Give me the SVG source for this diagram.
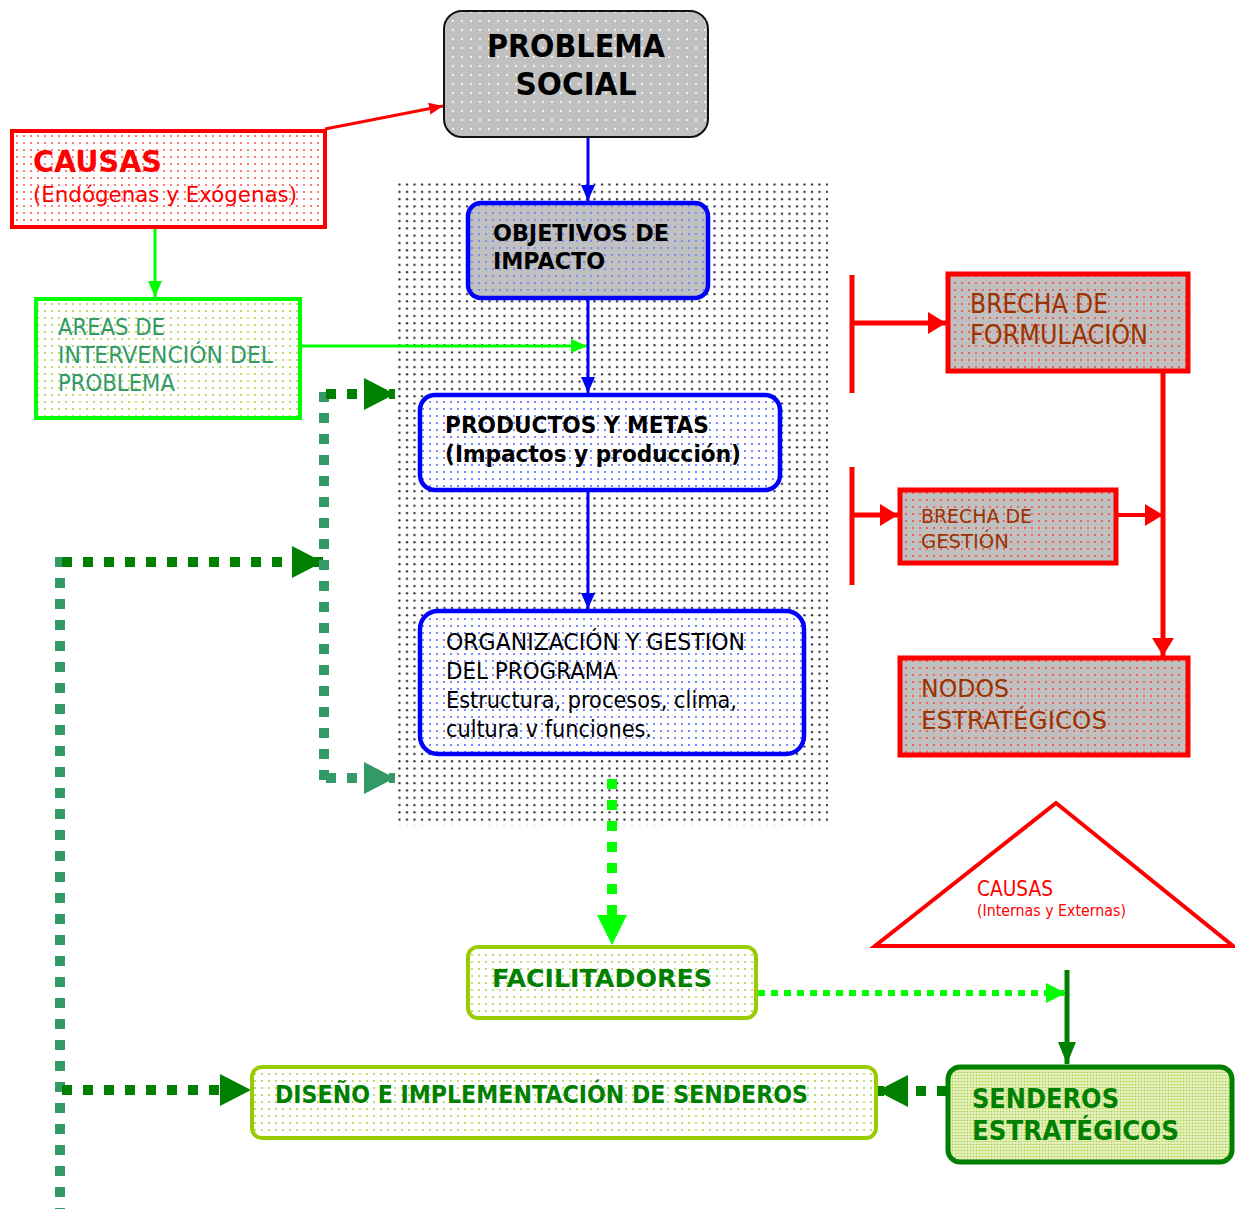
<svg xmlns="http://www.w3.org/2000/svg" width="1235" height="1209" viewBox="0 0 1235 1209">
  <style>
    text { font-family: "DejaVu Sans", "Noto Sans", sans-serif; }
    .b { font-weight: bold; }
    .blk { fill: #000000; }
    .red { fill: #ff0000; }
    .sea { fill: #339966; }
    .brown { fill: #993300; }
    .dg { fill: #008000; }
    .line { fill: none; }
  </style>
  <defs>
    <!-- dot textures -->
    <pattern id="pBg" width="7.5" height="7.3" patternUnits="userSpaceOnUse">
      <circle cx="2" cy="2" r="1.1" fill="#222"/>
    </pattern>
    <pattern id="pGrayWhite" width="9" height="9" patternUnits="userSpaceOnUse">
      <rect width="9" height="9" fill="#c0c0c0"/>
      <circle cx="3" cy="3" r="1" fill="#ffffff"/>
    </pattern>
    <pattern id="pRedWhite" width="7" height="7" patternUnits="userSpaceOnUse">
      <rect width="7" height="7" fill="#ffffff"/>
      <circle cx="3" cy="3" r="1" fill="#ff5050"/>
    </pattern>
    <pattern id="pRedGray" width="7" height="7" patternUnits="userSpaceOnUse">
      <rect width="7" height="7" fill="#c0c0c0"/>
      <circle cx="3" cy="3" r="1" fill="#ff4040"/>
    </pattern>
    <pattern id="pBlueGray" width="7" height="7" patternUnits="userSpaceOnUse">
      <rect width="7" height="7" fill="#c0c0c0"/>
      <circle cx="3" cy="3" r="1" fill="#6a7cff"/>
    </pattern>
    <pattern id="pBlueWhite" width="7" height="7" patternUnits="userSpaceOnUse">
      <rect width="7" height="7" fill="#ffffff"/>
      <circle cx="3" cy="3" r="1" fill="#5060ff"/>
    </pattern>
    <pattern id="pGreenWhite" width="7" height="7" patternUnits="userSpaceOnUse">
      <rect width="7" height="7" fill="#ffffff"/>
      <circle cx="3" cy="3" r="1" fill="#a8d040"/>
    </pattern>
    <pattern id="pGreenDense" width="3" height="3" patternUnits="userSpaceOnUse">
      <rect width="3" height="3" fill="#e4f0bc"/>
      <circle cx="1.5" cy="1.5" r="0.8" fill="#a8d040"/>
    </pattern>

    <!-- arrowheads -->
    <marker id="aRedS" markerUnits="userSpaceOnUse" markerWidth="14" markerHeight="12" refX="14" refY="6" orient="auto">
      <path d="M0,0 L14,6 L0,12 z" fill="#ff0000"/>
    </marker>
    <marker id="aRedL" markerUnits="userSpaceOnUse" markerWidth="18" markerHeight="22" refX="18" refY="11" orient="auto">
      <path d="M0,0 L18,11 L0,22 z" fill="#ff0000"/>
    </marker>
    <marker id="aBlue" markerUnits="userSpaceOnUse" markerWidth="16" markerHeight="14" refX="16" refY="7" orient="auto">
      <path d="M0,0 L16,7 L0,14 z" fill="#0000ff"/>
    </marker>
    <marker id="aLime" markerUnits="userSpaceOnUse" markerWidth="16" markerHeight="14" refX="16" refY="7" orient="auto">
      <path d="M0,0 L16,7 L0,14 z" fill="#00ff00"/>
    </marker>
    <marker id="aLimeL" markerUnits="userSpaceOnUse" markerWidth="30" markerHeight="30" refX="30" refY="15" orient="auto">
      <path d="M0,0 L30,15 L0,30 z" fill="#00ff00"/>
    </marker>
    <marker id="aLimeM" markerUnits="userSpaceOnUse" markerWidth="20" markerHeight="20" refX="20" refY="10" orient="auto">
      <path d="M0,0 L20,10 L0,20 z" fill="#00ff00"/>
    </marker>
    <marker id="aDg" markerUnits="userSpaceOnUse" markerWidth="31" markerHeight="32" refX="31" refY="16" orient="auto">
      <path d="M0,0 L31,16 L0,32 z" fill="#008000"/>
    </marker>
    <marker id="aDgS" markerUnits="userSpaceOnUse" markerWidth="22" markerHeight="18" refX="22" refY="9" orient="auto">
      <path d="M0,0 L22,9 L0,18 z" fill="#008000"/>
    </marker>
    <marker id="aSea" markerUnits="userSpaceOnUse" markerWidth="31" markerHeight="32" refX="31" refY="16" orient="auto">
      <path d="M0,0 L31,16 L0,32 z" fill="#339966"/>
    </marker>
  </defs>

  <rect width="1235" height="1209" fill="#ffffff"/>

  <!-- stippled backdrop behind the central column -->
  <rect id="backdrop" x="395" y="180" width="433" height="646" fill="url(#pBg)"/>

  <g id="connectors">
    <!-- causes to problem -->
    <line x1="325" y1="129" x2="443" y2="106" stroke="#ff0000" stroke-width="3" marker-end="url(#aRedS)"/>
    <!-- causes to intervention areas -->
    <line x1="155" y1="228" x2="155" y2="297" stroke="#00ff00" stroke-width="3" marker-end="url(#aLime)"/>
    <!-- intervention areas into central axis -->
    <line x1="301" y1="346" x2="587" y2="346" stroke="#00ff00" stroke-width="3" marker-end="url(#aLime)"/>
    <!-- central blue chain -->
    <line x1="588" y1="131" x2="588" y2="201" stroke="#0000ff" stroke-width="3" marker-end="url(#aBlue)"/>
    <line x1="588" y1="299" x2="588" y2="393" stroke="#0000ff" stroke-width="3" marker-end="url(#aBlue)"/>
    <line x1="588" y1="490" x2="588" y2="609" stroke="#0000ff" stroke-width="3" marker-end="url(#aBlue)"/>
    <!-- organization to facilitators -->
    <line x1="612" y1="779" x2="612" y2="945" stroke="#00ff00" stroke-width="10" stroke-dasharray="10 11" marker-end="url(#aLimeL)"/>
    <!-- facilitators to strategic paths -->
    <line x1="758" y1="993" x2="1066" y2="993" stroke="#00ff00" stroke-width="6" stroke-dasharray="7 6" marker-end="url(#aLimeM)"/>
    <!-- causes triangle to strategic paths -->
    <line x1="1067" y1="970" x2="1067" y2="1064" stroke="#008000" stroke-width="5" marker-end="url(#aDgS)"/>
    <!-- strategic paths to design -->
    <line x1="947" y1="1091" x2="877" y2="1091" stroke="#008000" stroke-width="10" stroke-dasharray="10 11" marker-end="url(#aDg)"/>

    <!-- feedback loop on the left -->
    <line x1="60" y1="557" x2="60" y2="1209" stroke="#339966" stroke-width="10" stroke-dasharray="10 11"/>
    <line x1="62" y1="562" x2="323" y2="562" stroke="#008000" stroke-width="10" stroke-dasharray="10 11" marker-end="url(#aDg)"/>
    <line x1="62" y1="1090" x2="251" y2="1090" stroke="#008000" stroke-width="10" stroke-dasharray="10 11" marker-end="url(#aDg)"/>
    <line x1="324" y1="392" x2="324" y2="788" stroke="#339966" stroke-width="10" stroke-dasharray="10 11"/>
    <line x1="326" y1="394" x2="395" y2="394" stroke="#008000" stroke-width="10" stroke-dasharray="10 11" marker-end="url(#aDg)"/>
    <line x1="326" y1="778" x2="395" y2="778" stroke="#339966" stroke-width="10" stroke-dasharray="10 11" marker-end="url(#aSea)"/>

    <!-- gap structure on the right -->
    <line x1="852" y1="275" x2="852" y2="393" stroke="#ff0000" stroke-width="5"/>
    <line x1="852" y1="323" x2="946" y2="323" stroke="#ff0000" stroke-width="5" marker-end="url(#aRedL)"/>
    <line x1="852" y1="467" x2="852" y2="585" stroke="#ff0000" stroke-width="5"/>
    <line x1="852" y1="515" x2="898" y2="515" stroke="#ff0000" stroke-width="5" marker-end="url(#aRedL)"/>
    <line x1="1117" y1="515" x2="1163" y2="515" stroke="#ff0000" stroke-width="4" marker-end="url(#aRedL)"/>
    <line x1="1163" y1="372" x2="1163" y2="656" stroke="#ff0000" stroke-width="5" marker-end="url(#aRedL)"/>
  </g>

  <g id="problema-social">
    <rect x="444" y="11" width="264" height="126" rx="18" fill="url(#pGrayWhite)" stroke="#111" stroke-width="2"/>
    <text x="576" y="57" text-anchor="middle" class="b blk" font-size="32" textLength="178" lengthAdjust="spacingAndGlyphs">PROBLEMA</text>
    <text x="576" y="95" text-anchor="middle" class="b blk" font-size="32" textLength="121" lengthAdjust="spacingAndGlyphs">SOCIAL</text>
  </g>

  <g id="causas">
    <rect x="12" y="131" width="313" height="96" fill="url(#pRedWhite)" stroke="#ff0000" stroke-width="4"/>
    <text x="33" y="172" class="b red" font-size="30" textLength="129" lengthAdjust="spacingAndGlyphs">CAUSAS</text>
    <text x="33" y="202" class="red" font-size="22" textLength="264" lengthAdjust="spacingAndGlyphs">(Endógenas y Exógenas)</text>
  </g>

  <g id="areas">
    <rect x="36" y="299" width="264" height="119" fill="url(#pGreenWhite)" stroke="#00ff00" stroke-width="4"/>
    <text x="58" y="335" class="sea" font-size="23" textLength="107" lengthAdjust="spacingAndGlyphs">AREAS DE</text>
    <text x="58" y="363" class="sea" font-size="23" textLength="215" lengthAdjust="spacingAndGlyphs">INTERVENCIÓN DEL</text>
    <text x="58" y="391" class="sea" font-size="23" textLength="117" lengthAdjust="spacingAndGlyphs">PROBLEMA</text>
  </g>

  <g id="objetivos">
    <rect x="468" y="203" width="240" height="95" rx="13" fill="url(#pBlueGray)" stroke="#0000ff" stroke-width="4.5"/>
    <text x="493" y="241" class="b blk" font-size="23" textLength="176" lengthAdjust="spacingAndGlyphs">OBJETIVOS DE</text>
    <text x="493" y="269" class="b blk" font-size="23" textLength="112" lengthAdjust="spacingAndGlyphs">IMPACTO</text>
  </g>

  <g id="productos">
    <rect x="420" y="395" width="360" height="95" rx="15" fill="url(#pBlueWhite)" stroke="#0000ff" stroke-width="4.5"/>
    <text x="445" y="433" class="b blk" font-size="23" textLength="264" lengthAdjust="spacingAndGlyphs">PRODUCTOS Y METAS</text>
    <text x="445" y="462" class="b blk" font-size="23" textLength="296" lengthAdjust="spacingAndGlyphs">(Impactos y producción)</text>
  </g>

  <g id="organizacion">
    <rect x="420" y="611" width="384" height="143" rx="18" fill="url(#pBlueWhite)" stroke="#0000ff" stroke-width="4.5"/>
    <text x="446" y="650" class="blk" font-size="23" textLength="299" lengthAdjust="spacingAndGlyphs">ORGANIZACIÓN Y GESTION</text>
    <text x="446" y="679" class="blk" font-size="23" textLength="172" lengthAdjust="spacingAndGlyphs">DEL PROGRAMA</text>
    <text x="446" y="708" class="blk" font-size="23" textLength="291" lengthAdjust="spacingAndGlyphs">Estructura, procesos, clima,</text>
    <text x="446" y="737" class="blk" font-size="23" textLength="206" lengthAdjust="spacingAndGlyphs">cultura v funciones.</text>
  </g>

  <g id="brecha-formulacion">
    <rect x="948" y="274" width="240" height="97" fill="url(#pRedGray)" stroke="#ff0000" stroke-width="5"/>
    <text x="970" y="313" class="brown" font-size="26" textLength="138" lengthAdjust="spacingAndGlyphs">BRECHA DE</text>
    <text x="970" y="344" class="brown" font-size="26" textLength="178" lengthAdjust="spacingAndGlyphs">FORMULACIÓN</text>
  </g>

  <g id="brecha-gestion">
    <rect x="900" y="490" width="216" height="73" fill="url(#pRedGray)" stroke="#ff0000" stroke-width="5"/>
    <text x="921" y="523" class="brown" font-size="20" textLength="111" lengthAdjust="spacingAndGlyphs">BRECHA DE</text>
    <text x="921" y="548" class="brown" font-size="20" textLength="88" lengthAdjust="spacingAndGlyphs">GESTIÓN</text>
  </g>

  <g id="nodos">
    <rect x="900" y="658" width="288" height="97" fill="url(#pRedGray)" stroke="#ff0000" stroke-width="5"/>
    <text x="921" y="697" class="brown" font-size="25" textLength="88" lengthAdjust="spacingAndGlyphs">NODOS</text>
    <text x="921" y="729" class="brown" font-size="25" textLength="186" lengthAdjust="spacingAndGlyphs">ESTRATÉGICOS</text>
  </g>

  <g id="causas-internas">
    <polygon points="1056,803 875,946 1233,946" fill="#ffffff" stroke="#ff0000" stroke-width="4" stroke-linejoin="miter"/>
    <text x="977" y="896" class="red" font-size="21" textLength="76" lengthAdjust="spacingAndGlyphs">CAUSAS</text>
    <text x="977" y="916" class="red" font-size="15" textLength="149" lengthAdjust="spacingAndGlyphs">(Internas y Externas)</text>
  </g>

  <g id="facilitadores">
    <rect x="468" y="947" width="288" height="71" rx="10" fill="url(#pGreenWhite)" stroke="#99cc00" stroke-width="4"/>
    <text x="492" y="987" class="b dg" font-size="25" textLength="220" lengthAdjust="spacingAndGlyphs">FACILITADORES</text>
  </g>

  <g id="diseno">
    <rect x="252" y="1067" width="624" height="71" rx="10" fill="url(#pGreenWhite)" stroke="#99cc00" stroke-width="4"/>
    <text x="275" y="1103" class="b dg" font-size="24" textLength="533" lengthAdjust="spacingAndGlyphs">DISEÑO E IMPLEMENTACIÓN DE SENDEROS</text>
  </g>

  <g id="senderos">
    <rect x="948" y="1067" width="284" height="95" rx="12" fill="url(#pGreenDense)" stroke="#008000" stroke-width="5"/>
    <text x="972" y="1108" class="b dg" font-size="27" textLength="147" lengthAdjust="spacingAndGlyphs">SENDEROS</text>
    <text x="972" y="1140" class="b dg" font-size="27" textLength="207" lengthAdjust="spacingAndGlyphs">ESTRATÉGICOS</text>
  </g>
</svg>
